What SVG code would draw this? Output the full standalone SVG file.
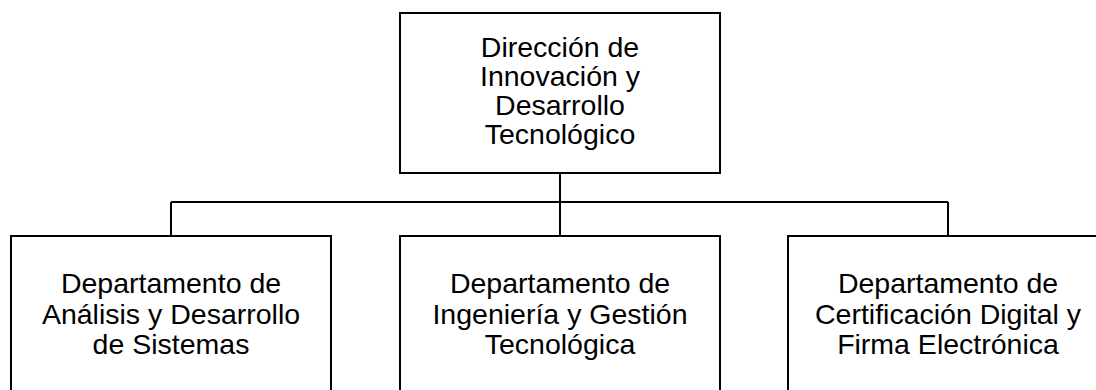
<svg xmlns="http://www.w3.org/2000/svg" width="1096" height="390" viewBox="0 0 1096 390">
<style>
.box{fill:#fff;stroke:#000;stroke-width:2}
.lbl{font-family:"Liberation Sans",Arial,sans-serif;font-size:28.5px;fill:#000;text-anchor:middle}
.con{fill:none;stroke:#000;stroke-width:2}
</style>
<rect width="1096" height="390" fill="#fff"/>
<g id="connectors">
<path class="con" d="M560 173 V202 M171 202 H948 M171 202 V236 M560 202 V236 M948 202 V236"/>
</g>
<g id="n-direccion">
<rect class="box" x="400" y="13" width="320" height="160"/>
<text class="lbl"><tspan x="560" y="57">Dirección de</tspan><tspan x="560" y="86">Innovación y</tspan><tspan x="560" y="115">Desarrollo</tspan><tspan x="560" y="144">Tecnológico</tspan></text>
</g>
<g id="n-analisis">
<rect class="box" x="11" y="236" width="320" height="170"/>
<text class="lbl"><tspan x="171" y="293">Departamento de</tspan><tspan x="171" y="323.5">Análisis y Desarrollo</tspan><tspan x="171" y="354">de Sistemas</tspan></text>
</g>
<g id="n-ingenieria">
<rect class="box" x="400" y="236" width="320" height="170"/>
<text class="lbl"><tspan x="560" y="293">Departamento de</tspan><tspan x="560" y="323.5">Ingeniería y Gestión</tspan><tspan x="560" y="354">Tecnológica</tspan></text>
</g>
<g id="n-certificacion">
<rect class="box" x="788" y="236" width="320" height="170"/>
<text class="lbl"><tspan x="948" y="293">Departamento de</tspan><tspan x="948" y="323.5">Certificación Digital y</tspan><tspan x="948" y="354">Firma Electrónica</tspan></text>
</g>
</svg>
